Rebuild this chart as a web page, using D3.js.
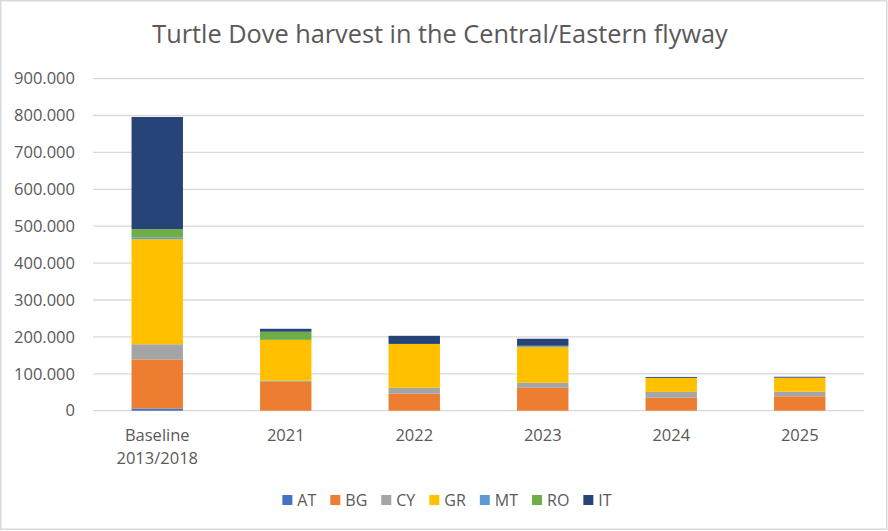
<!DOCTYPE html>
<html>
<head>
<meta charset="utf-8">
<script src="https://cdn.jsdelivr.net/npm/d3@7"></script>
<style>
  body { margin: 0; background: #fff; }
  text { font-family: "Open Sans", "Noto Sans", sans-serif; fill: #595959; }
</style>
</head>
<body>
<div class="chart"></div>
<script>
var categories = ["Baseline\n2013/2018", "2021", "2022", "2023", "2024", "2025"];
var seriesNames = ["AT", "BG", "CY", "GR", "MT", "RO", "IT"];
var seriesColors = ["#4472c4", "#ed7d31", "#a5a5a5", "#ffc000", "#5b9bd5", "#70ad47", "#264478"];

// harvest per country, one value per category
var AT = [6000, 0, 0, 0, 0, 0];
var BG = [133000, 78000, 46000, 62000, 35000, 39000];
var CY = [41000, 3000, 16000, 13500, 16000, 12500];
var GR = [285000, 111000, 119000, 97500, 38000, 38000];
var MT = [5000, 0, 0, 3000, 0, 0];
var RO = [22000, 22000, 0, 0, 0, 0];
var IT = [304000, 8000, 22000, 19000, 2500, 2500];

var yTicks = [0, 100000, 200000, 300000, 400000, 500000, 600000, 700000, 800000, 900000];

var svgWidth = 888;
var svgHeight = 531;
var margin = { top: 78.6, right: 24, bottom: 120.3, left: 93 };
var width = svgWidth - margin.left - margin.right;
var height = svgHeight - margin.top - margin.bottom;

var seriesValues = [AT, BG, CY, GR, MT, RO, IT];
var table = categories.map(function(c, i) {
  var row = { cat: c };
  seriesNames.forEach(function(s, j) { row[s] = seriesValues[j][i]; });
  return row;
});

var svg = d3.select(".chart")
  .append("svg")
  .attr("width", svgWidth)
  .attr("height", svgHeight);

// chart border
svg.append("rect")
  .attr("x", 0.75).attr("y", 0.75)
  .attr("width", 886).attr("height", 528.5)
  .attr("fill", "#fff")
  .attr("stroke", "#d9d9d9")
  .attr("stroke-width", 1.5);

svg.append("text")
  .attr("x", 440)
  .attr("y", 43)
  .attr("text-anchor", "middle")
  .style("font-size", "25.3px")
  .text("Turtle Dove harvest in the Central/Eastern flyway");

var chartGroup = svg.append("g")
  .attr("transform", `translate(${margin.left}, ${margin.top})`);

var xScale = d3.scaleBand()
  .domain(categories)
  .range([0, width])
  .paddingInner(0.6)
  .paddingOuter(0.3);

var yScale = d3.scaleLinear()
  .domain([0, 900000])
  .range([height, 0]);

var locale = d3.formatLocale({ decimal: ",", thousands: ".", grouping: [3], currency: ["", ""] });
var fmt = locale.format(",");

// gridlines
chartGroup.append("g")
  .selectAll("line")
  .data(yTicks)
  .enter()
  .append("line")
  .attr("x1", 0)
  .attr("x2", width)
  .attr("y1", d => yScale(d))
  .attr("y2", d => yScale(d))
  .attr("stroke", "#d9d9d9")
  .attr("stroke-width", 1.3);

// y axis labels
var leftAxis = d3.axisLeft(yScale)
  .tickValues(yTicks)
  .tickFormat(d => fmt(d))
  .tickSize(0)
  .tickPadding(18);

var yAxisG = chartGroup.append("g").call(leftAxis);
yAxisG.select(".domain").remove();
yAxisG.selectAll("text")
  .style("font-size", "16.5px")
  .style("font-family", "'Open Sans', sans-serif")
  .attr("fill", "#595959");

// stacked bars
var stack = d3.stack().keys(seriesNames);
var layers = stack(table);

chartGroup.selectAll("g.layer")
  .data(layers)
  .enter()
  .append("g")
  .attr("class", "layer")
  .attr("fill", (d, i) => seriesColors[i])
  .selectAll("rect")
  .data(d => d)
  .enter()
  .append("rect")
  .attr("x", d => xScale(d.data.cat))
  .attr("width", xScale.bandwidth())
  .attr("y", d => yScale(d[1]))
  .attr("height", d => yScale(d[0]) - yScale(d[1]));

// x axis labels
var bottomAxis = d3.axisBottom(xScale).tickSize(0).tickFormat("");
var xAxisG = chartGroup.append("g")
  .attr("transform", `translate(0, ${height})`)
  .call(bottomAxis);
xAxisG.select(".domain").remove();

xAxisG.selectAll(".tick")
  .append("text")
  .attr("text-anchor", "middle")
  .style("font-size", "16.5px")
  .each(function(d) {
    var lines = d.split("\n");
    var t = d3.select(this);
    lines.forEach(function(l, i) {
      t.append("tspan")
        .attr("x", 0)
        .attr("y", 30 + i * 23.5)
        .text(l);
    });
  });

// legend
var legend = svg.append("g");
var lx = 0;
var gap = 14;
seriesNames.forEach(function(s, i) {
  var item = legend.append("g").attr("transform", `translate(${lx}, 0)`);
  item.append("rect")
    .attr("x", 0).attr("y", -5)
    .attr("width", 10).attr("height", 10)
    .attr("fill", seriesColors[i]);
  var t = item.append("text")
    .attr("x", 15)
    .attr("y", 6)
    .style("font-size", "16px")
    .text(s);
  lx += 15 + t.node().getComputedTextLength() + gap;
});
lx -= gap;
legend.attr("transform", `translate(${447 - lx / 2}, 500)`);
</script>
</body>
</html>
